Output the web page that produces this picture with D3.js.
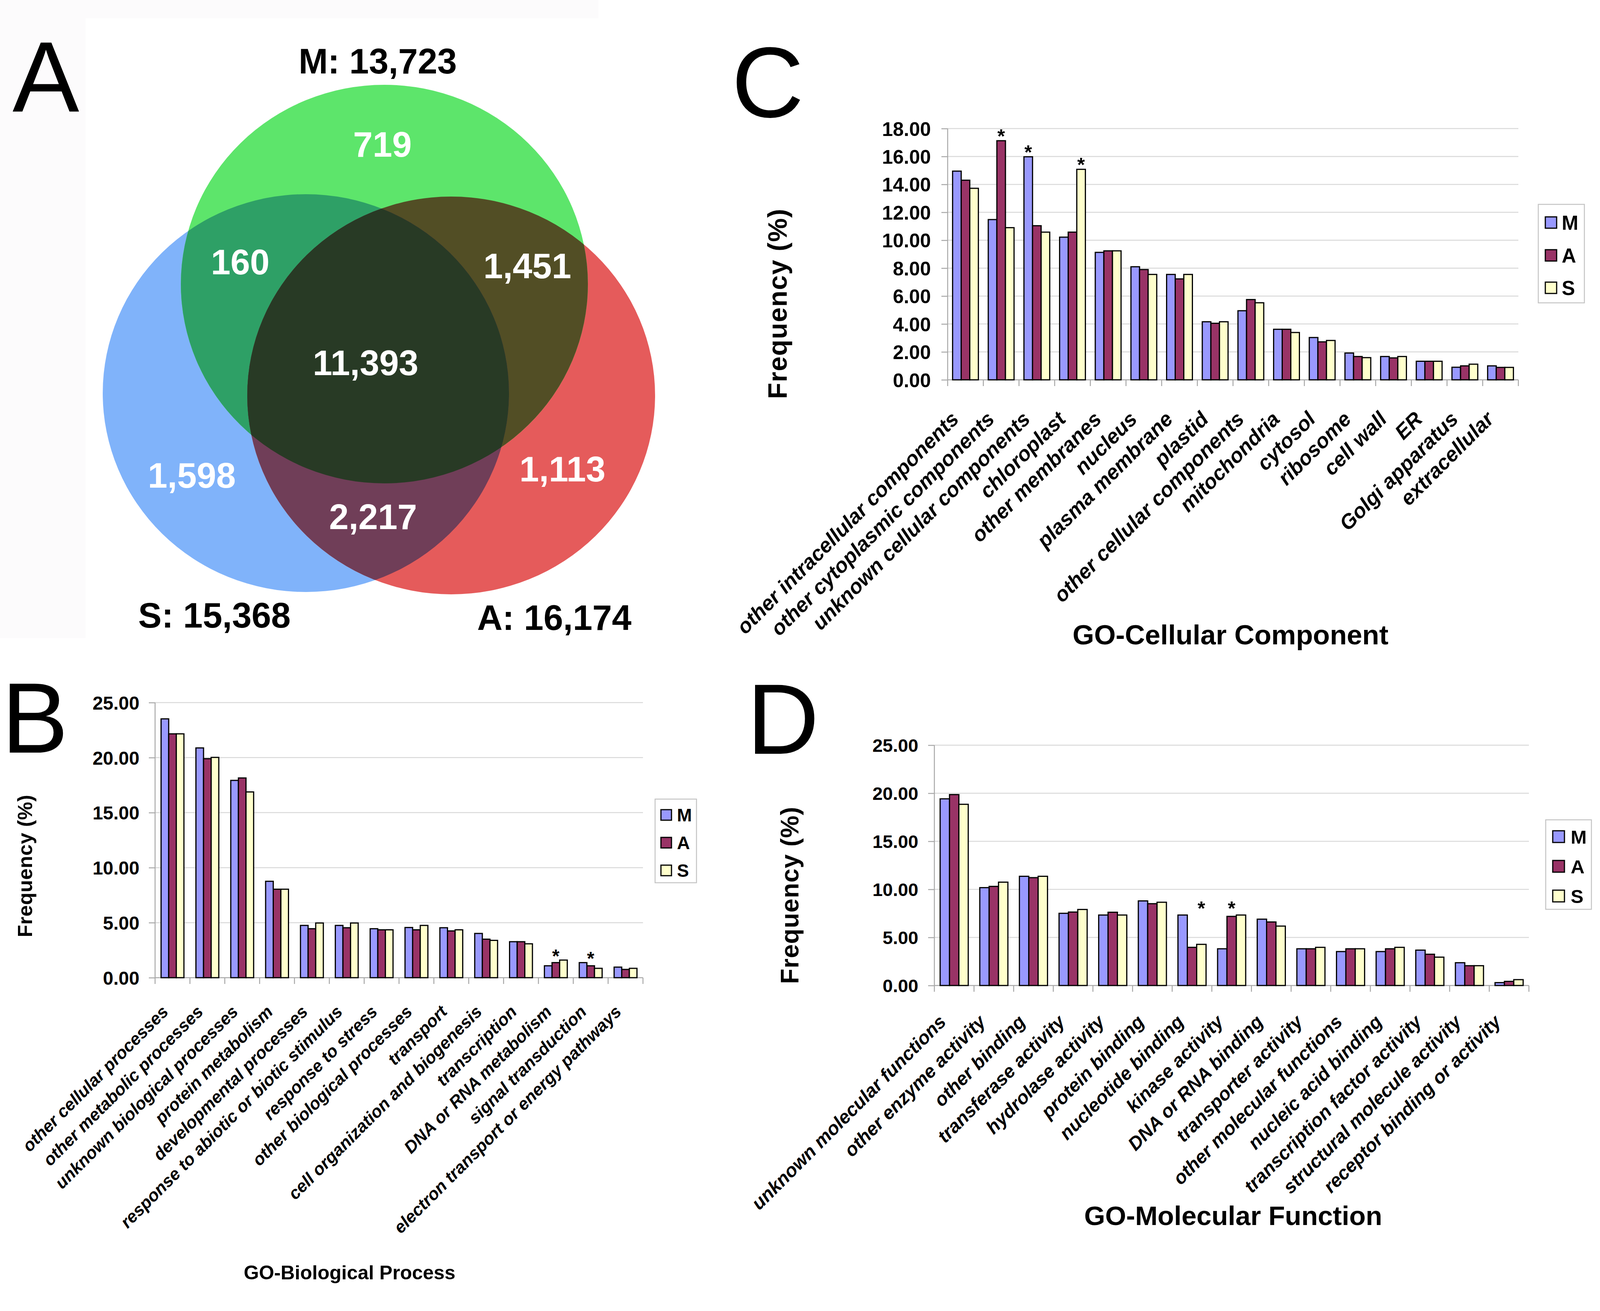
<!DOCTYPE html>
<html><head><meta charset="utf-8">
<script src="https://cdn.jsdelivr.net/npm/d3@7"></script>
<style>html,body{margin:0;padding:0;background:#fff;}svg{display:block;}</style>
</head><body>
<svg id="fig" width="4134" height="3355"></svg>
<script>
// ---------------- DATA ----------------
const seriesNames = ["M", "A", "S"];

// Venn (panel A)
const vennSetNames = ["M", "S", "A"];
const vennSetTotals = [13723, 15368, 16174];
const vennRegionNames = ["M only", "M∩S", "M∩A", "M∩A∩S", "S only", "A only", "A∩S"];
const vennRegionCounts = [719, 160, 1451, 11393, 1598, 1113, 2217];

// Panel C: GO-Cellular Component
const ccCategories = ["other intracellular components", "other cytoplasmic components", "unknown cellular components",
  "chloroplast", "other membranes", "nucleus", "plasma membrane", "plastid", "other cellular components",
  "mitochondria", "cytosol", "ribosome", "cell wall", "ER", "Golgi apparatus", "extracellular"];
const ccM = [14.95, 11.48, 15.98, 10.22, 9.13, 8.10, 7.55, 4.16, 4.95, 3.62, 3.03, 1.92, 1.67, 1.33, 0.90, 1.00];
const ccA = [14.30, 17.13, 11.04, 10.58, 9.24, 7.90, 7.23, 4.05, 5.75, 3.62, 2.72, 1.67, 1.57, 1.33, 1.00, 0.89];
const ccS = [13.72, 10.90, 10.58, 15.08, 9.24, 7.55, 7.55, 4.16, 5.52, 3.39, 2.82, 1.59, 1.67, 1.33, 1.12, 0.89];
const ccTicks = [0, 2, 4, 6, 8, 10, 12, 14, 16, 18];
const ccStars = [["other cytoplasmic components", "A"], ["unknown cellular components", "M"], ["chloroplast", "S"]];

// Panel B: GO-Biological Process
const bpCategories = ["other cellular processes", "other metabolic processes", "unknown biological processes",
  "protein metabolism", "developmental processes", "response to abiotic or biotic stimulus", "response to stress",
  "other biological processes", "transport", "cell organization and biogenesis", "transcription",
  "DNA or RNA metabolism", "signal transduction", "electron transport or energy pathways"];
const bpM = [23.52, 20.88, 17.93, 8.76, 4.75, 4.75, 4.45, 4.56, 4.54, 4.02, 3.27, 1.08, 1.37, 0.96];
const bpA = [22.16, 19.90, 18.15, 8.04, 4.45, 4.54, 4.35, 4.35, 4.25, 3.50, 3.27, 1.37, 1.08, 0.75];
const bpS = [22.16, 20.02, 16.88, 8.04, 4.97, 4.97, 4.35, 4.75, 4.35, 3.39, 3.08, 1.60, 0.85, 0.85];
const bpTicks = [0, 5, 10, 15, 20, 25];
const bpStars = [["DNA or RNA metabolism", "A"], ["signal transduction", "A"]];

// Panel D: GO-Molecular Function
const mfCategories = ["unknown molecular functions", "other enzyme activity", "other binding", "transferase activity",
  "hydrolase activity", "protein binding", "nucleotide binding", "kinase activity", "DNA or RNA binding",
  "transporter activity", "other molecular functions", "nucleic acid binding", "transcription factor activity",
  "structural molecule activity", "receptor binding or activity"];
const mfM = [19.42, 10.18, 11.36, 7.51, 7.33, 8.80, 7.33, 3.82, 6.90, 3.82, 3.53, 3.53, 3.68, 2.37, 0.30];
const mfA = [19.86, 10.31, 11.22, 7.64, 7.62, 8.51, 3.97, 7.19, 6.61, 3.82, 3.82, 3.82, 3.25, 2.06, 0.43];
const mfS = [18.85, 10.75, 11.36, 7.91, 7.33, 8.66, 4.28, 7.33, 6.18, 3.97, 3.82, 3.97, 2.95, 2.06, 0.61];
const mfTicks = [0, 5, 10, 15, 20, 25];
const mfStars = [["nucleotide binding", "S"], ["kinase activity", "A"]];

// ---------------- STYLE ----------------
const FONT = "'Liberation Sans', Arial, Helvetica, sans-serif";
const seriesColors = {M: "#9999ff", A: "#993366", S: "#ffffcc"};
const gridColor = "#d9d9d9", axisColor = "#a8a8a8";

const svg = d3.select("#fig");
svg.append("rect").attr("width", 4134).attr("height", 3355).attr("fill", "#fff");

// ---------------- PANEL A : VENN ----------------
(function venn() {
  const g = svg.append("g");
  g.append("rect").attr("x", 0).attr("y", 0).attr("width", 1532).attr("height", 1633).attr("fill", "#fcfbfc");
  g.append("rect").attr("x", 219).attr("y", 47).attr("width", 1313).attr("height", 1586).attr("fill", "#ffffff");

  const circ = {
    M: {cx: 984, cy: 727, rx: 521, ry: 510, fill: "#5de56b"},
    S: {cx: 783, cy: 1006, rx: 520, ry: 509, fill: "#80b3fa"},
    A: {cx: 1155, cy: 1012, rx: 522, ry: 509, fill: "#e55b5b"}
  };
  const defs = svg.append("defs");
  Object.keys(circ).forEach(k => {
    const c = circ[k];
    defs.append("clipPath").attr("id", "clip" + k)
      .append("ellipse").attr("cx", c.cx).attr("cy", c.cy).attr("rx", c.rx).attr("ry", c.ry);
  });
  const ell = (sel, k, fill) => sel.append("ellipse").attr("cx", circ[k].cx).attr("cy", circ[k].cy)
    .attr("rx", circ[k].rx).attr("ry", circ[k].ry).attr("fill", fill);
  ell(g, "S", circ.S.fill);
  ell(g, "A", circ.A.fill);
  ell(g, "M", circ.M.fill);
  ell(g.append("g").attr("clip-path", "url(#clipS)"), "M", "#2ea066");
  ell(g.append("g").attr("clip-path", "url(#clipA)"), "M", "#524e25");
  ell(g.append("g").attr("clip-path", "url(#clipA)"), "S", "#703e58");
  ell(g.append("g").attr("clip-path", "url(#clipA)").append("g").attr("clip-path", "url(#clipS)"), "M", "#283a25");

  const fmt = d3.format(",");
  const regionPos = [[979, 401], [615, 702], [1350, 712], [936, 960], [491, 1248], [1440, 1232], [955, 1354]];
  g.selectAll("text.reg").data(vennRegionCounts).join("text").attr("class", "reg")
    .attr("x", (d, i) => regionPos[i][0]).attr("y", (d, i) => regionPos[i][1])
    .attr("text-anchor", "middle").attr("font-family", FONT).attr("font-weight", "bold")
    .attr("font-size", 90).attr("fill", "#ffffff").text(d => fmt(d));

  const setPos = [[967, 188], [549, 1606], [1419, 1612]];
  g.selectAll("text.set").data(vennSetTotals).join("text").attr("class", "set")
    .attr("x", (d, i) => setPos[i][0]).attr("y", (d, i) => setPos[i][1])
    .attr("text-anchor", "middle").attr("font-family", FONT).attr("font-weight", "bold")
    .attr("font-size", 90).attr("fill", "#000").text((d, i) => vennSetNames[i] + ": " + fmt(d));
})();

// ---------------- BAR PANELS ----------------
function barPanel(cfg) {
  const g = svg.append("g");
  const data = cfg.cats.map((c, i) => ({cat: c, M: cfg.M[i], A: cfg.A[i], S: cfg.S[i]}));
  const x = d3.scaleBand().domain(cfg.cats).range([cfg.x0, cfg.x1]).padding(0);
  const y = d3.scaleLinear().domain([0, d3.max(cfg.ticks)]).range([cfg.y0, cfg.yTop]);
  const bw = x.bandwidth() * cfg.groupFrac / 3;
  const off = (x.bandwidth() - 3 * bw) / 2;
  const xs = d3.scaleBand().domain(seriesNames).range([0, 3 * bw]).padding(0);

  // gridlines
  g.selectAll("line.grid").data(cfg.ticks.filter(t => t > 0)).join("line")
    .attr("x1", cfg.x0).attr("x2", cfg.x1).attr("y1", d => y(d)).attr("y2", d => y(d))
    .attr("stroke", gridColor).attr("stroke-width", 2.5);

  // y axis
  const ya = g.append("g").attr("transform", `translate(${cfg.x0},0)`)
    .call(d3.axisLeft(y).tickValues(cfg.ticks).tickFormat(d3.format(".2f"))
      .tickSize(16).tickSizeOuter(0).tickPadding(cfg.tickPad));
  ya.select(".domain").remove();
  ya.selectAll(".tick line").attr("stroke", axisColor).attr("stroke-width", 2.5);
  ya.selectAll(".tick text").attr("font-family", FONT).attr("font-weight", "bold")
    .attr("font-size", cfg.tickFont).attr("fill", "#000").attr("dy", "0.36em");
  g.append("line").attr("x1", cfg.x0).attr("x2", cfg.x0).attr("y1", cfg.yTop).attr("y2", cfg.y0 + 16)
    .attr("stroke", axisColor).attr("stroke-width", 2.5);

  // x axis baseline + category ticks
  g.append("line").attr("x1", cfg.x0).attr("x2", cfg.x1).attr("y1", cfg.y0).attr("y2", cfg.y0)
    .attr("stroke", axisColor).attr("stroke-width", 2.5);
  const bounds = cfg.cats.map(c => x(c)).concat([cfg.x1]);
  g.selectAll("line.ctick").data(bounds.slice(1)).join("line")
    .attr("x1", d => d).attr("x2", d => d).attr("y1", cfg.y0).attr("y2", cfg.y0 + 16)
    .attr("stroke", axisColor).attr("stroke-width", 2.5);

  // bars
  const grp = g.selectAll("g.grp").data(data).join("g")
    .attr("transform", d => `translate(${x(d.cat) + off},0)`);
  grp.selectAll("rect").data(d => seriesNames.map(s => ({s, v: d[s]}))).join("rect")
    .attr("x", d => xs(d.s)).attr("width", bw)
    .attr("y", d => y(d.v)).attr("height", d => cfg.y0 - y(d.v))
    .attr("fill", d => seriesColors[d.s]).attr("stroke", "#000").attr("stroke-width", 3);

  // asterisks
  g.selectAll("text.star").data(cfg.stars).join("text")
    .attr("x", d => x(d[0]) + off + xs(d[1]) + bw / 2)
    .attr("y", d => { const r = data.find(e => e.cat === d[0]); return y(Math.max(r.M, r.A, r.S)) + cfg.starDy; })
    .attr("text-anchor", "middle").attr("font-family", FONT).attr("font-weight", "bold")
    .attr("font-size", cfg.starFont).text("*");

  // category labels
  g.selectAll("text.cat").data(cfg.cats).join("text")
    .attr("transform", d => `translate(${x(d) + x.bandwidth() / 2 + cfg.labDx},${cfg.y0 + cfg.labDy}) rotate(-45)`)
    .attr("text-anchor", "end").attr("font-family", FONT).attr("font-weight", "bold").attr("font-style", "italic")
    .attr("font-size", cfg.labFont).attr("fill", "#000").text(d => d);

  // axis titles
  g.append("text").attr("transform", `translate(${cfg.yt.x},${cfg.yt.y}) rotate(-90)`)
    .attr("text-anchor", "middle").attr("font-family", FONT).attr("font-weight", "bold")
    .attr("font-size", cfg.yt.font).attr("letter-spacing", cfg.yt.ls).text("Frequency (%)");
  g.append("text").attr("x", cfg.xt.x).attr("y", cfg.xt.y).attr("text-anchor", "middle")
    .attr("font-family", FONT).attr("font-weight", "bold").attr("font-size", cfg.xt.font).text(cfg.xt.text);

  // legend
  const L = cfg.leg;
  g.append("rect").attr("x", L.x).attr("y", L.y).attr("width", L.w).attr("height", L.h)
    .attr("fill", "#fff").attr("stroke", "#c4c4c4").attr("stroke-width", 2.5);
  const li = g.selectAll("g.li").data(seriesNames).join("g")
    .attr("transform", (d, i) => `translate(${L.sx},${L.sy[i]})`);
  li.append("rect").attr("width", L.sw).attr("height", L.sw).attr("fill", d => seriesColors[d])
    .attr("stroke", "#000").attr("stroke-width", 3);
  li.append("text").attr("x", L.tx - L.sx).attr("y", L.sw / 2).attr("dy", "0.36em")
    .attr("font-family", FONT).attr("font-weight", "bold").attr("font-size", L.font).text(d => d);

  // panel letter
  g.append("text").attr("x", cfg.letter.x).attr("y", cfg.letter.y).attr("font-family", FONT)
    .attr("font-size", 256).attr("fill", "#000").text(cfg.letter.t);
}

// Panel A letter
svg.append("text").attr("x", 32).attr("y", 286).attr("font-family", FONT).attr("font-size", 256).text("A");

barPanel({
  cats: ccCategories, M: ccM, A: ccA, S: ccS, ticks: ccTicks, stars: ccStars,
  x0: 2426, x1: 3887, yTop: 329, y0: 972, groupFrac: 0.723,
  tickFont: 50, tickPad: 27, labFont: 53, labDx: -14, labDy: 104, starFont: 50, starDy: 6,
  yt: {x: 2014, y: 777, font: 68, ls: 1.5},
  xt: {x: 3150, y: 1649, font: 71, text: "GO-Cellular Component"},
  leg: {x: 3938, y: 523, w: 118, h: 252, sx: 3956, sy: [555, 639, 722], sw: 29, tx: 3998, font: 51},
  letter: {x: 1873, y: 300, t: "C"}
});

barPanel({
  cats: bpCategories, M: bpM, A: bpA, S: bpS, ticks: bpTicks, stars: bpStars,
  x0: 397, x1: 1646, yTop: 1798, y0: 2502, groupFrac: 0.656,
  tickFont: 48, tickPad: 24, labFont: 44, labDx: -8, labDy: 90, starFont: 48, starDy: 6,
  yt: {x: 82, y: 2216, font: 52, ls: 0.5},
  xt: {x: 895, y: 3274, font: 50, text: "GO-Biological Process"},
  leg: {x: 1677, y: 2045, w: 106, h: 214, sx: 1692, sy: [2072, 2143, 2214], sw: 27, tx: 1733, font: 46},
  letter: {x: 4, y: 1926, t: "B"}
});

barPanel({
  cats: mfCategories, M: mfM, A: mfA, S: mfS, ticks: mfTicks, stars: mfStars,
  x0: 2392, x1: 3914, yTop: 1907, y0: 2522, groupFrac: 0.709,
  tickFont: 47, tickPad: 25, labFont: 48, labDx: -18, labDy: 96, starFont: 50, starDy: 0,
  yt: {x: 2044, y: 2291, font: 64, ls: 1},
  xt: {x: 3157, y: 3135, font: 69, text: "GO-Molecular Function"},
  leg: {x: 3957, y: 2098, w: 117, h: 229, sx: 3975, sy: [2126, 2202, 2278], sw: 30, tx: 4021, font: 49},
  letter: {x: 1912, y: 1929, t: "D"}
});
</script>
</body></html>
